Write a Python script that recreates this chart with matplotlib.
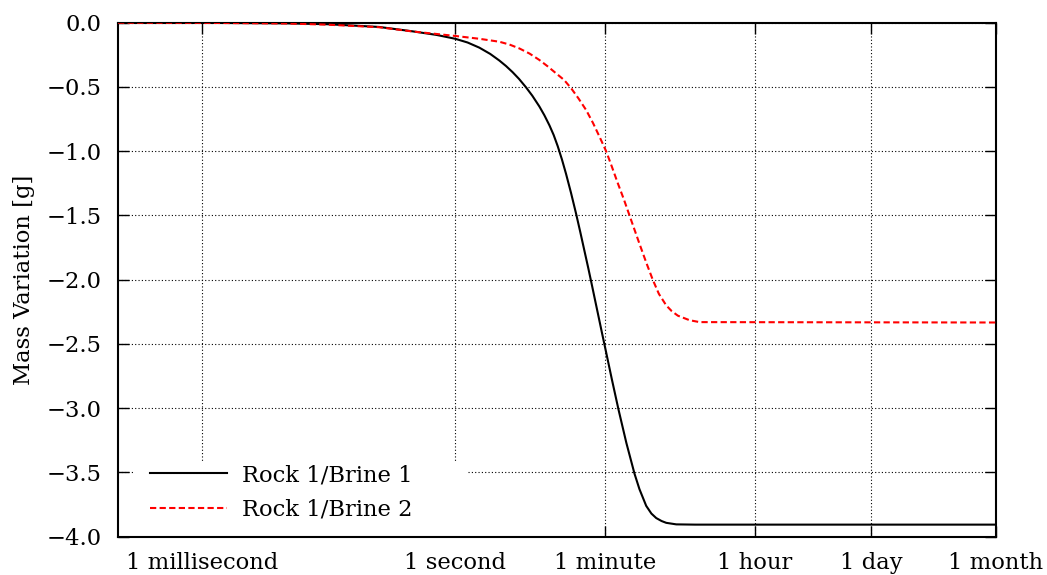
import matplotlib
matplotlib.use("Agg")
import matplotlib.pyplot as plt
from matplotlib.patches import Rectangle

# time in seconds, mass variation in grams
t_brine1 = [1e-4, 1e-3, 0.01, 0.0316, 0.125, 0.311, 0.6, 1.0, 1.4, 1.93, 2.6,
            3.33, 4.0, 4.79, 5.7, 6.91, 8.2, 9.95, 11.4, 13.1, 14.7, 16.4, 18.4,
            20.6, 23.6, 27.1, 30.4, 34.1, 37.8, 41.8, 45.8, 50.1, 54.9, 60, 72,
            86.3, 107, 133.7, 153, 184, 212, 242, 280, 318, 418, 700, 2.592e6]
m_brine1 = [0.0, -0.001, -0.005, -0.012, -0.033, -0.067, -0.095, -0.125, -0.154,
            -0.194, -0.243, -0.294, -0.337, -0.385, -0.437, -0.503, -0.568,
            -0.652, -0.720, -0.799, -0.874, -0.960, -1.063, -1.176, -1.324,
            -1.486, -1.629, -1.777, -1.909, -2.043, -2.167, -2.288, -2.412,
            -2.53, -2.775, -3.01, -3.27, -3.51, -3.63, -3.76, -3.82, -3.855,
            -3.878, -3.892, -3.904, -3.906, -3.906]

t_brine2 = [1e-4, 1e-3, 0.01, 0.03, 0.125, 0.311, 1.0, 1.93, 3.33, 4.4, 5.75,
            7.6, 9.95, 12.5, 15.7, 19.5, 23.7, 29, 35.7, 43, 51.3, 61.6, 72,
            84.7, 100, 116.6, 153, 185, 220, 260, 318, 370, 437, 600, 790, 2.592e6]
m_brine2 = [0.0, -0.001, -0.006, -0.015, -0.035, -0.068, -0.103, -0.125, -0.148,
            -0.17, -0.20, -0.24, -0.29, -0.34, -0.394, -0.445, -0.51, -0.59,
            -0.68, -0.78, -0.886, -1.00, -1.12, -1.249, -1.375, -1.50, -1.72,
            -1.87, -2.00, -2.11, -2.20, -2.245, -2.28, -2.315, -2.33, -2.333]

labels = ["Rock 1/Brine 1", "Rock 1/Brine 2"]

xtick_vals = [1e-3, 1, 60, 3600, 86400, 2592000]
xtick_labels = ["1 millisecond", "1 second", "1 minute", "1 hour", "1 day", "1 month"]
ytick_vals = [0.0, -0.5, -1.0, -1.5, -2.0, -2.5, -3.0, -3.5, -4.0]

plt.rcParams['font.family'] = ['DejaVu Serif']
plt.rcParams['font.size'] = 16.3

fig = plt.figure(figsize=(10.47, 5.75), dpi=100)
ax = fig.add_axes([0.1127, 0.0666, 0.8386, 0.8939])

ax.plot(t_brine1, m_brine1, color='black', lw=1.5, label=labels[0], zorder=3)
ax.plot(t_brine2, m_brine2, color='red', lw=1.5, ls=(0, (3, 1.6)),
        label=labels[1], zorder=3)

ax.set_xscale('log')
ax.set_xlim(1e-4, 2592000)
ax.set_ylim(-4.0, 0.0)
ax.set_xticks(xtick_vals)
ax.set_xticklabels(xtick_labels)
ax.minorticks_off()
ax.set_yticks(ytick_vals)
ax.set_ylabel("Mass Variation [g]", labelpad=8)

ax.set_axisbelow(True)
ax.grid(True, color='black', lw=0.8, ls=(0, (1, 2)))
ax.tick_params(direction='in', length=8, width=1, top=True, right=True)
ax.tick_params(axis='x', pad=11)
ax.tick_params(axis='y', pad=12)
for s in ax.spines.values():
    s.set_linewidth(1.5)

# white box behind the key, hides the grid there
ax.add_patch(Rectangle((0.019, 0.0), 0.378, 0.145, transform=ax.transAxes,
                       facecolor='white', edgecolor='none', zorder=1))
ax.legend(loc='lower left', bbox_to_anchor=(0.018, 0.0), borderaxespad=0,
          frameon=False, handlelength=3.4, handletextpad=0.7,
          labelspacing=0.55, borderpad=0.7)

fig.savefig("out.png", dpi=100)
